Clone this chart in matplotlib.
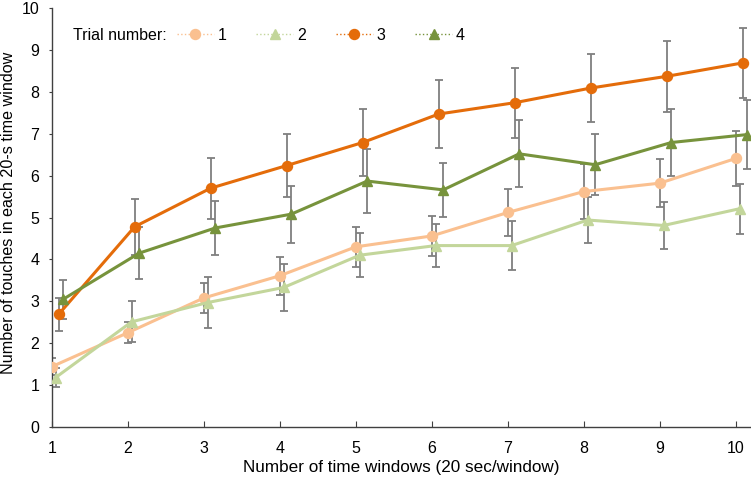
import matplotlib
matplotlib.use("Agg")
import matplotlib.pyplot as plt
from matplotlib.lines import Line2D

plt.rcParams['font.family'] = ['Liberation Sans', 'DejaVu Sans']

windows = [1, 2, 3, 4, 5, 6, 7, 8, 9, 10]
trial_labels = ["1", "2", "3", "4"]

t1_mean = [1.44, 2.25, 3.08, 3.61, 4.30, 4.56, 5.12, 5.62, 5.82, 6.41]
t1_err = [0.20, 0.25, 0.35, 0.45, 0.47, 0.48, 0.57, 0.65, 0.58, 0.65]

t2_mean = [1.18, 2.51, 2.97, 3.33, 4.10, 4.33, 4.33, 4.94, 4.81, 5.21]
t2_err = [0.22, 0.49, 0.60, 0.55, 0.53, 0.52, 0.58, 0.55, 0.55, 0.60]

t3_mean = [2.69, 4.78, 5.70, 6.24, 6.79, 7.47, 7.74, 8.09, 8.37, 8.69]
t3_err = [0.39, 0.67, 0.73, 0.75, 0.79, 0.82, 0.84, 0.82, 0.84, 0.83]

t4_mean = [3.05, 4.15, 4.75, 5.08, 5.87, 5.66, 6.52, 6.26, 6.79, 6.98]
t4_err = [0.47, 0.62, 0.65, 0.68, 0.77, 0.65, 0.80, 0.73, 0.81, 0.82]

means = [t1_mean, t2_mean, t3_mean, t4_mean]
errs = [t1_err, t2_err, t3_err, t4_err]
offsets = [0.0, 0.05, 0.09, 0.15]
colors = ['#FAC090', '#C3D69B', '#E46C0A', '#77933C']
markers = ['o', '^', 'o', '^']

fig = plt.figure(figsize=(7.51, 4.79), dpi=100)
ax = fig.add_axes([0.069, 0.1086, 0.931, 0.8746])

for m, e, off, c, mk in zip(means, errs, offsets, colors, markers):
    xs = [w + off for w in windows]
    ax.errorbar(xs, m, yerr=e, fmt='none', ecolor='#7F7F7F', elinewidth=1.3,
                capsize=3, capthick=1.3, zorder=2)
for m, off, c, mk in zip(means, offsets, colors, markers):
    xs = [w + off for w in windows]
    ax.plot(xs, m, color=c, marker=mk, markersize=7.2, linewidth=2.2, zorder=3)

ax.set_xlim(1, 10.2)
ax.set_ylim(0, 10)
ax.set_xticks(windows)
ax.set_yticks(range(0, 11))
for s in ['top', 'right']:
    ax.spines[s].set_visible(False)
for s in ['left', 'bottom']:
    ax.spines[s].set_color('#404040')
    ax.spines[s].set_linewidth(1.0)
ax.tick_params(axis='x', direction='in', length=4, color='#404040', labelsize=11.5, pad=10)
ax.tick_params(axis='y', direction='out', length=2, color='#404040', labelsize=11.5, pad=7)

ax.set_xlabel('Number of time windows (20 sec/window)', fontsize=12.3, labelpad=3)
ax.set_ylabel('Number of touches in each 20-s time window', fontsize=11.6)
ax.yaxis.set_label_coords(-0.051, 0.51)

handles = [Line2D([0], [0], color=c, marker=mk, markersize=7.2, linestyle=':', linewidth=1.0)
           for c, mk in zip(colors, markers)]
fig.text(73 / 751, 1 - 35 / 479, 'Trial number:', fontsize=11.5, va='center', ha='left')
ax.legend(handles, trial_labels, ncol=4, frameon=False, fontsize=11.5,
          loc='center left', bbox_to_anchor=(177 / 751, 1 - 35 / 479),
          bbox_transform=fig.transFigure, borderpad=0, borderaxespad=0,
          handlelength=2.3, columnspacing=1.87, handletextpad=0.25)

fig.savefig('out.png', dpi=100)
